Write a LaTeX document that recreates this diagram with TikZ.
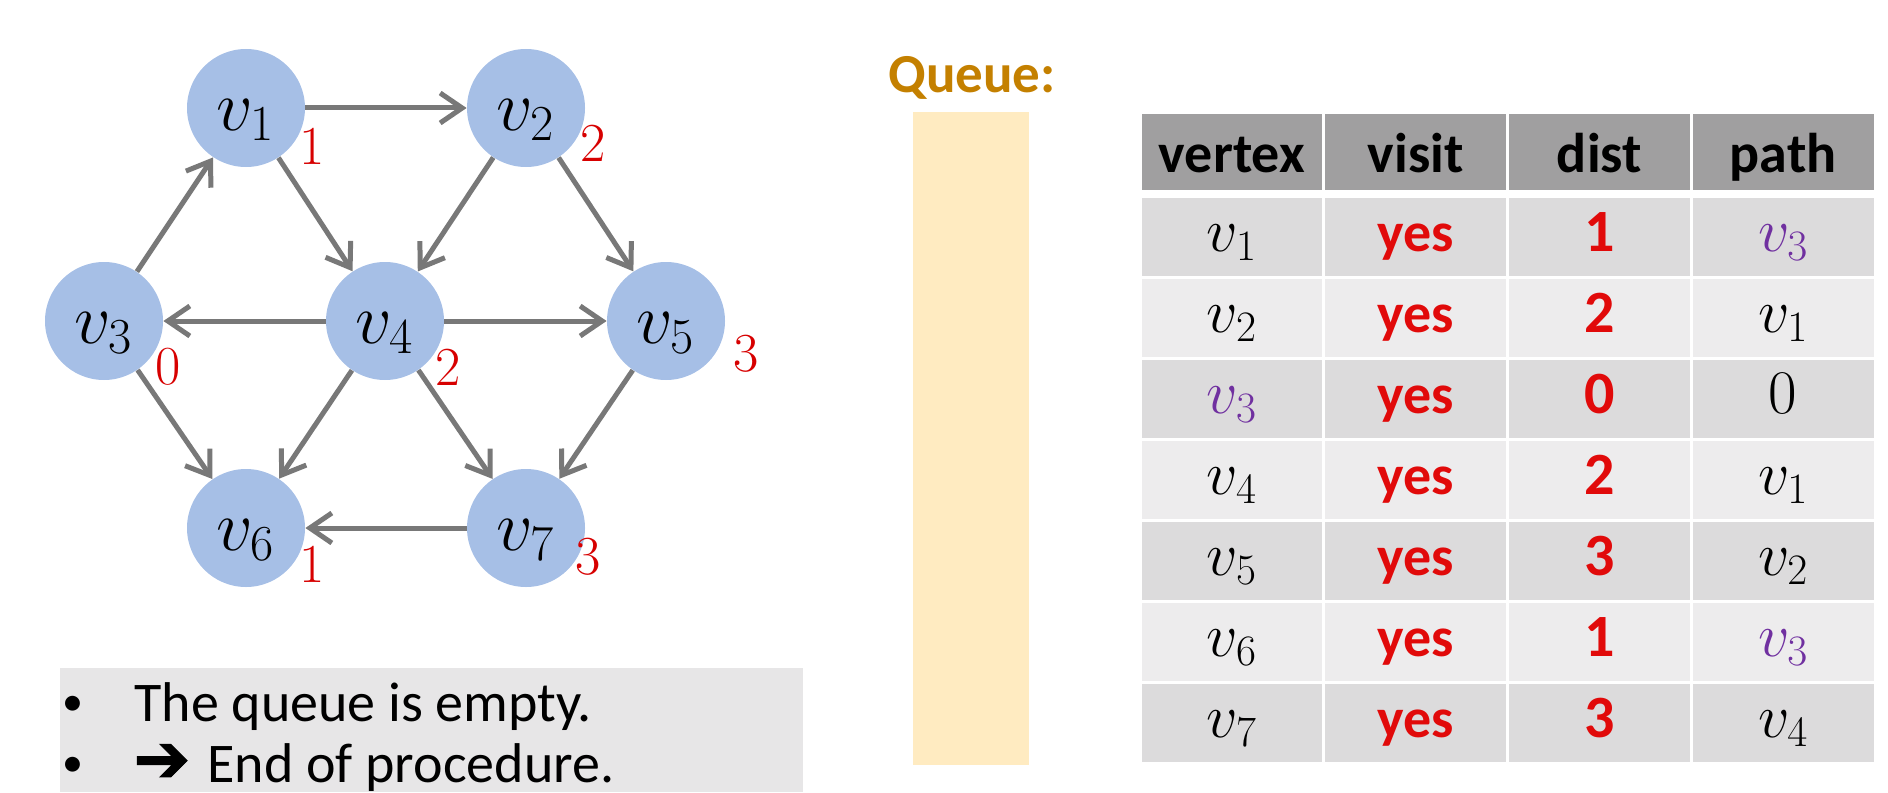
\RequirePackage{fix-cm}
\documentclass[tikz,border=0pt]{standalone}
\usepackage{fontspec}
\newfontfamily\calibri{Carlito}
\newfontfamily\djv[FakeBold=1.5]{DejaVu Sans}
\usetikzlibrary{arrows.meta}
\definecolor{nodeblue}{RGB}{166,191,230}
\definecolor{edgegray}{RGB}{120,120,120}
\definecolor{distred}{RGB}{215,0,0}
\definecolor{yesred}{RGB}{225,10,10}
\definecolor{vpurple}{RGB}{112,48,160}
\definecolor{qgold}{RGB}{196,128,0}
\definecolor{qfill}{RGB}{255,235,193}
\definecolor{hdrgray}{RGB}{160,159,160}
\definecolor{rowdark}{RGB}{220,219,220}
\definecolor{rowlight}{RGB}{237,236,237}
\definecolor{notefill}{RGB}{231,230,231}
\begin{document}
\begin{tikzpicture}[x=0.5pt,y=-0.5pt,
  vert/.style={circle, fill=nodeblue, minimum size=59pt, inner sep=0pt,
    text height=22pt, text depth=0pt, font=\fontsize{36}{40}\selectfont},
  gedge/.style={draw=edgegray, line width=2.5pt, -{Straight Barb[length=11pt,width=15pt]}},
  dlabel/.style={text=distred, inner sep=0pt, font=\fontsize{27.5}{30}\selectfont},
  cell/.style={minimum width=91.875pt, minimum height=40.5pt, inner sep=0pt,
    draw=white, line width=1.5pt, text height=15pt, text depth=0pt},
  hdr/.style={cell, minimum height=39pt, fill=hdrgray, text height=20pt,
    font=\calibri\bfseries\fontsize{28}{30}\selectfont},
  mcell/.style={font=\fontsize{31}{33}\selectfont},
  ycell/.style={text=yesred, font=\calibri\bfseries\fontsize{28}{30}\selectfont},
  dcell/.style={text=yesred, font=\calibri\bfseries\fontsize{30}{32}\selectfont},
  notetext/.style={anchor=base west, inner sep=0pt, font=\calibri\fontsize{28}{30}\selectfont},
  bullet/.style={anchor=base west, inner sep=0pt, font=\calibri\fontsize{21}{24}\selectfont}
]
\useasboundingbox (0,0) rectangle (1888,792);

% graph nodes
\node[vert] (v1) at (246,108) {$v_1$};
\node[vert] (v2) at (526,108) {$v_2$};
\node[vert] (v3) at (104,321) {$v_3$};
\node[vert] (v4) at (385,321) {$v_4$};
\node[vert] (v5) at (666,321) {$v_5$};
\node[vert] (v6) at (246,528) {$v_6$};
\node[vert] (v7) at (526,528) {$v_7$};

% distance labels
\node[dlabel] (d1) at (312,146) {1};
\node[dlabel] (d2) at (593,143) {2};
\node[dlabel] (d3) at (168,367) {0};
\node[dlabel] (d4) at (448,367) {2};
\node[dlabel] (d5) at (746,354) {3};
\node[dlabel] (d6) at (312,564) {1};
\node[dlabel] (d7) at (588,557) {3};

% edges
\draw[gedge] (v1) -- (v2);
\draw[gedge] (v1) -- (v4);
\draw[gedge] (v3) -- (v1);
\draw[gedge] (v2) -- (v4);
\draw[gedge] (v2) -- (v5);
\draw[gedge] (v4) -- (v3);
\draw[gedge] (v4) -- (v5);
\draw[gedge] (v3) -- (v6);
\draw[gedge] (v4) -- (v6);
\draw[gedge] (v4) -- (v7);
\draw[gedge] (v5) -- (v7);
\draw[gedge] (v7) -- (v6);

% queue
\node[anchor=base west, inner sep=0pt, text=qgold,
  font=\calibri\bfseries\fontsize{27.5}{30}\selectfont] (qlabel) at (888,93) {Queue:};
\node[fill=qfill, inner sep=0pt, minimum width=58pt, minimum height=326.5pt,
  anchor=north west] (qbox) at (913,112) {};

% table header
\node[hdr] (h1) at (1231.9,152) {vertex};
\node[hdr] (h2) at (1415.6,152) {visit};
\node[hdr] (h3) at (1599.4,152) {dist};
\node[hdr] (h4) at (1783.1,152) {path};

% table rows
\foreach \r/\va/\di/\pa/\fc in {
  1/{$v_1$}/1/{\color{vpurple}$v_3$}/rowdark,
  2/{$v_2$}/2/{$v_1$}/rowlight,
  3/{\color{vpurple}$v_3$}/0/{$0$}/rowdark,
  4/{$v_4$}/2/{$v_1$}/rowlight,
  5/{$v_5$}/3/{$v_2$}/rowdark,
  6/{$v_6$}/1/{\color{vpurple}$v_3$}/rowlight,
  7/{$v_7$}/3/{$v_4$}/rowdark}{
  \pgfmathsetmacro\yc{196+81*(\r-1)+40.5}
  \node[cell, mcell, fill=\fc] (r\r c1) at (1231.9,\yc) {\va};
  \node[cell, ycell, fill=\fc] (r\r c2) at (1415.6,\yc) {yes};
  \node[cell, dcell, fill=\fc] (r\r c3) at (1599.4,\yc) {\di};
  \node[cell, mcell, fill=\fc] (r\r c4) at (1783.1,\yc) {\pa};
}

% note box
\node[fill=notefill, anchor=north west, minimum width=371.5pt, minimum height=62pt,
  inner sep=0pt] (note) at (60,668) {};
\node[bullet] (b1) at (62,715) {•};
\node[notetext] (t1) at (134,721) {The queue is empty.};
\node[bullet] (b2) at (62,776) {•};
\node[notetext, font=\djv\fontsize{34}{36}\selectfont] (arr) at (133,782) {➔};
\node[notetext] (t2) at (207,782) {End of procedure.};
\end{tikzpicture}
\end{document}
